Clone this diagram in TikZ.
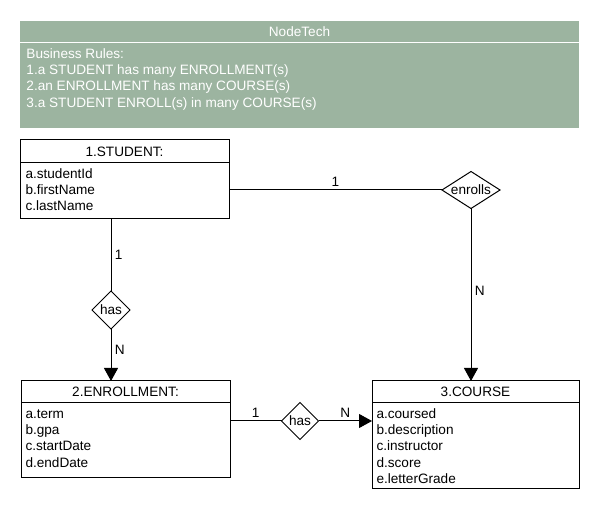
\documentclass[tikz,border=0pt]{standalone}
\usepackage{fontspec}
\setmainfont{Liberation Sans}
\usetikzlibrary{positioning, shapes.geometric, arrows.meta, calc}
\definecolor{rulegreen}{RGB}{156,180,160}

\begin{document}
\begin{tikzpicture}[x=1pt, y=-1pt, line width=1pt,
	font=\fontsize{13.6}{16.3}\selectfont,
	head/.style={draw, rectangle, inner sep=0pt, outer sep=0pt, minimum height=23pt, anchor=north west},
	body/.style={draw, rectangle, inner sep=0pt, outer sep=0pt},
	attrs/.style={align=left, inner sep=0pt, anchor=base west},
	rel/.style={draw, diamond, inner sep=0pt, outer sep=0pt},
	tip/.style={-{Triangle[length=13pt, width=14pt]}}]
	\useasboundingbox (0,0) rectangle (600,510);
	% business rules
	\fill[rulegreen] (20,21) rectangle (579,128);
	\draw[white] (20,43) -- (579,43);
	\node[white] (title) at (299.5,32) {NodeTech};
	\node[white, attrs] (rules) at (26,107.2) {Business Rules:\\1.a STUDENT has many ENROLLMENT(s)\\2.an ENROLLMENT has many COURSE(s)\\3.a STUDENT ENROLL(s) in many COURSE(s)};
	% entities
	\node[head, minimum width=209pt] (studenthead) at (20,140) {1.STUDENT:};
	\node[body, minimum width=209pt, minimum height=56pt, below=0pt of studenthead] (studentbody) {};
	\node[attrs] (studentattr) at (25,211) {a.studentId\\b.firstName\\c.lastName};
	\node[head, minimum width=209pt, minimum height=22pt] (enrollhead) at (21,381) {2.ENROLLMENT:};
	\node[body, minimum width=209pt, minimum height=75pt, below=0pt of enrollhead] (enrollbody) {};
	\node[attrs] (enrollattr) at (25,467.2) {a.term\\b.gpa\\c.startDate\\d.endDate};
	\node[head, minimum width=207pt, minimum height=22pt] (coursehead) at (372,381) {3.COURSE};
	\node[body, minimum width=207pt, minimum height=86pt, below=0pt of coursehead] (coursebody) {};
	\node[attrs] (courseattr) at (376,483.5) {a.coursed\\b.description\\c.instructor\\d.score\\e.letterGrade};
	% relationships
	\node[rel, minimum width=58pt, minimum height=37pt, aspect=1.57] (enrolls) at (471,190) {enrolls};
	\node[rel, minimum width=38pt, minimum height=38pt] (hasenroll) at (111,310) {has};
	\node[rel, minimum width=37pt, minimum height=37pt] (hascourse) at (300,421) {has};
	\draw (studentbody.east |- enrolls) -- node[above] (onestudent) {1} (enrolls.west);
	\draw[tip] (enrolls.south) -- node[right, pos=0.48] (manycourse) {N} (coursehead.north -| enrolls);
	\draw (studentbody.south -| hasenroll) -- node[right] (oneenroll) {1} (hasenroll.north);
	\draw[tip] (hasenroll.south) -- node[right, pos=0.4] (manyenroll) {N} (enrollhead.north -| hasenroll);
	\draw (enrollbody.east |- hascourse) -- node[above] (onecourse) {1} (hascourse.west);
	\draw[tip] (hascourse.east) -- node[above] (manyhas) {N} (coursebody.west |- hascourse);
\end{tikzpicture}
\end{document}
